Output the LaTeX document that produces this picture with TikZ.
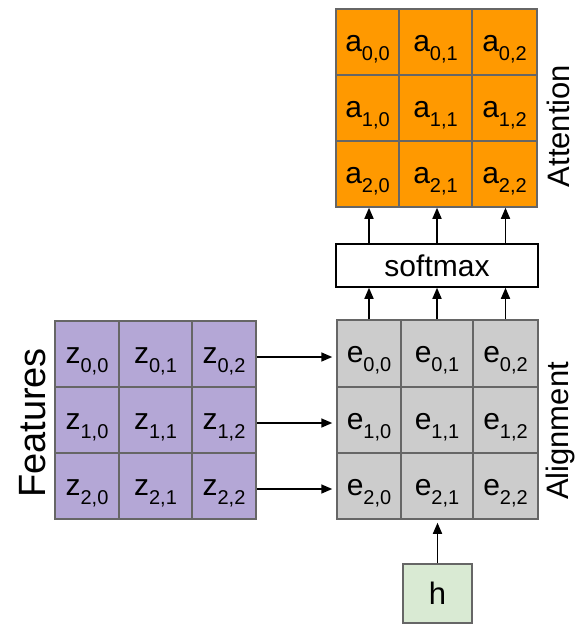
\documentclass[tikz,border=0pt]{standalone}
\usepackage{fontspec}
\setmainfont{Liberation Sans}
\usetikzlibrary{arrows.meta,calc}
\definecolor{attn}{HTML}{FF9900}
\definecolor{feat}{HTML}{B4A7D6}
\definecolor{algn}{HTML}{CCCCCC}
\definecolor{hgreen}{HTML}{D9EAD3}
\definecolor{gridc}{HTML}{666666}
\newcommand{\cellt}[3]{\fontsize{30}{30}\selectfont #1\raisebox{-9pt}{\fontsize{20}{20}\selectfont #2,#3}}
\tikzset{
  cell/.style={draw=gridc, line width=1.5pt, inner sep=0pt, text height=20pt, text depth=2pt},
  arr/.style={line width=1.6pt, -{Triangle[length=11pt,width=9pt]}},
  sidelabel/.style={rotate=90, anchor=base, inner sep=0pt}
}
\begin{document}
\begin{tikzpicture}[x=1pt,y=-1pt]
\useasboundingbox (0,0) rectangle (576,624);
% Attention grid
\foreach \r/\ya/\yb in {0/9/75,1/75/141,2/141/207}{
  \foreach \c/\xa/\xb in {0/336/399,1/399/472,2/472/537}{
    \node[cell, fill=attn, minimum width={\xb-\xa}, minimum height={\yb-\ya}] (a\r\c) at ({(\xa+\xb)/2},{(\ya+\yb)/2}) {\cellt{a}{\r}{\c}};
  }
}
% Alignment grid
\foreach \r/\ya/\yb in {0/320/387,1/387/453,2/453/519}{
  \foreach \c/\xa/\xb in {0/337/401,1/401/473,2/473/538}{
    \node[cell, fill=algn, minimum width={\xb-\xa}, minimum height={\yb-\ya}] (e\r\c) at ({(\xa+\xb)/2},{(\ya+\yb)/2}) {\cellt{e}{\r}{\c}};
  }
}
% Features grid
\foreach \r/\ya/\yb in {0/321/387,1/387/453,2/453/519}{
  \foreach \c/\xa/\xb in {0/55/119,1/119/192,2/192/256}{
    \node[cell, fill=feat, minimum width={\xb-\xa}, minimum height={\yb-\ya}] (z\r\c) at ({(\xa+\xb)/2},{(\ya+\yb)/2}) {\cellt{z}{\r}{\c}};
  }
}
% softmax
\node[draw=black, line width=1.5pt, fill=white, minimum width=202, minimum height=43, inner sep=0pt] (sm) at (437,265.5) {\fontsize{30}{30}\selectfont softmax};
% h
\node[draw=gridc, line width=1.5pt, fill=hgreen, minimum width=69, minimum height=59, inner sep=0pt] (h) at (437.5,593.5) {\fontsize{31}{31}\selectfont h};
% labels
\node[sidelabel] (lf) at (45,423) {\fontsize{38}{38}\selectfont Features};
\node[sidelabel] (lat) at (569,126) {\fontsize{31}{31}\selectfont Attention};
\node[sidelabel] (lal) at (568,431) {\fontsize{31}{31}\selectfont Alignment};
% arrows
\foreach \c in {0,1,2}{
  \draw[arr] (e0\c.north) -- (e0\c.north |- sm.south);
  \draw[arr] (sm.north -| e0\c.north) -- (a2\c.south -| e0\c.north);
}
\foreach \r in {0,1,2}{
  \draw[arr, shorten >=4pt] ([yshift=-3pt]z\r2.east) -- ([yshift=-3pt]z\r2.east -| e\r0.west);
}
\draw[arr, shorten >=3pt] (h.north) -- (h.north |- e21.south);
\end{tikzpicture}
\end{document}
